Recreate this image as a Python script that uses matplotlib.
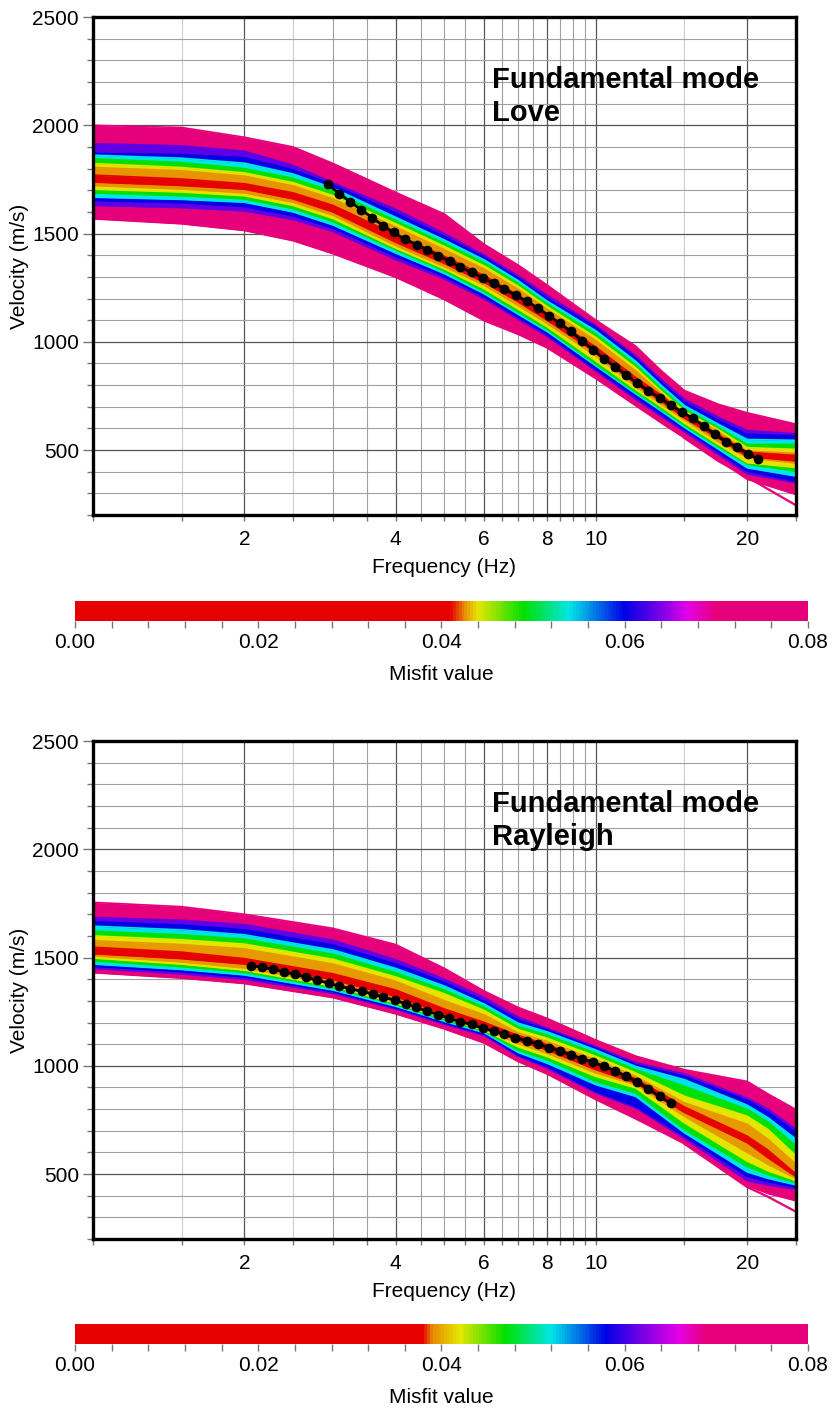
#Dispersion curves of the inversion, coloured by misfit
import numpy as np
import matplotlib
matplotlib.use('Agg')
import matplotlib.pyplot as plt
from matplotlib.colors import LinearSegmentedColormap, Normalize
from matplotlib.cm import ScalarMappable
from matplotlib.ticker import FixedLocator, MultipleLocator, FormatStrFormatter, NullFormatter

plt.rcParams['font.family'] = ['Liberation Sans', 'DejaVu Sans']

# ---------------- Love panel ----------------
love_freq = [1, 1.5, 2, 2.5, 3, 4, 5, 6, 7, 8, 10, 12, 13.5, 15, 17.5, 20, 25]
# bands from worst misfit (outer, pink) to best (inner, red)
love_misfit = [0.075, 0.063, 0.060, 0.054, 0.049, 0.044, 0.0425, 0.030]
love_upper = [
    [2000, 1990, 1945, 1900, 1824, 1690, 1590, 1450, 1355, 1262, 1100, 980, 866, 775, 712, 672, 620],
    [1915, 1905, 1880, 1815, 1735, 1612, 1500, 1400, 1305, 1215, 1075, 935, 825, 735, 652, 590, 575],
    [1870, 1865, 1850, 1795, 1725, 1595, 1485, 1390, 1295, 1200, 1066, 925, 812, 720, 638, 573, 565],
    [1862, 1848, 1825, 1775, 1710, 1575, 1470, 1378, 1283, 1188, 1051, 910, 798, 705, 620, 549, 545],
    [1845, 1828, 1800, 1755, 1695, 1560, 1455, 1365, 1270, 1175, 1036, 895, 783, 690, 605, 526, 526],
    [1823, 1805, 1780, 1735, 1675, 1545, 1440, 1350, 1257, 1162, 1020, 880, 770, 680, 595, 511, 503],
    [1805, 1790, 1765, 1720, 1660, 1530, 1425, 1335, 1243, 1150, 1005, 865, 760, 670, 585, 495, 485],
    [1770, 1752, 1730, 1688, 1630, 1495, 1395, 1305, 1215, 1125, 975, 835, 752, 665, 572, 490, 475],
]
love_lower = [
    [1568, 1545, 1514, 1467, 1407, 1298, 1195, 1097, 1035, 972, 830, 705, 625, 556, 455, 365, 295],
    [1630, 1620, 1605, 1565, 1510, 1380, 1290, 1198, 1105, 1025, 866, 735, 655, 585, 480, 390, 350],
    [1653, 1642, 1625, 1582, 1525, 1395, 1302, 1208, 1115, 1035, 873, 745, 665, 595, 492, 403, 356],
    [1668, 1658, 1645, 1600, 1540, 1410, 1315, 1222, 1128, 1048, 889, 760, 680, 605, 505, 418, 380],
    [1688, 1675, 1660, 1615, 1555, 1425, 1327, 1232, 1138, 1058, 897, 768, 690, 615, 517, 435, 403],
    [1705, 1692, 1675, 1630, 1570, 1433, 1337, 1245, 1152, 1070, 912, 780, 700, 625, 527, 442, 420],
    [1722, 1706, 1688, 1645, 1585, 1445, 1347, 1262, 1168, 1085, 935, 795, 712, 640, 540, 465, 440],
    [1738, 1722, 1705, 1660, 1600, 1460, 1362, 1275, 1185, 1100, 950, 805, 725, 648, 555, 470, 450],
]
# a few stray models leaving the bundle at high frequency
love_stray_freq = [15, 17.5, 20, 25]
love_stray_vel = [556, 450, 375, 245]
love_obs_freq = [2.93, 3.09, 3.24, 3.41, 3.59, 3.77, 3.96, 4.17, 4.40, 4.62, 4.86, 5.12, 5.38, 5.66,
                 5.96, 6.26, 6.58, 6.93, 7.29, 7.67, 8.07, 8.49, 8.92, 9.38, 9.88, 10.39, 10.92,
                 11.50, 12.09, 12.72, 13.39, 14.08, 14.80, 15.59, 16.39, 17.23, 18.15, 19.08,
                 20.06, 21.05]
love_obs_vel = [1727, 1685, 1648, 1611, 1574, 1537, 1505, 1474, 1449, 1424, 1398, 1372, 1344, 1321,
                1295, 1270, 1244, 1215, 1187, 1156, 1120, 1085, 1048, 1005, 963, 920, 884, 846,
                810, 773, 742, 708, 677, 647, 611, 573, 538, 514, 483, 457]
love_cmap_stops = [0.0, 0.041, 0.0425, 0.044, 0.049, 0.054, 0.060, 0.064, 0.067, 0.070, 0.080]

# ---------------- Rayleigh panel ----------------
ray_freq = [1, 1.5, 2, 3, 4, 5, 6, 7, 8, 10, 12, 15, 20, 22, 25]
ray_misfit = [0.074, 0.061, 0.058, 0.052, 0.047, 0.042, 0.0395, 0.030]
ray_upper = [
    [1755, 1735, 1700, 1635, 1560, 1450, 1345, 1270, 1219, 1119, 1045, 982, 928, 870, 798],
    [1685, 1672, 1652, 1580, 1490, 1400, 1315, 1225, 1173, 1088, 1015, 962, 850, 800, 706],
    [1665, 1650, 1628, 1558, 1470, 1385, 1298, 1212, 1165, 1081, 1005, 951, 840, 785, 691],
    [1645, 1628, 1605, 1535, 1450, 1368, 1285, 1197, 1157, 1073, 997, 936, 818, 760, 661],
    [1622, 1605, 1585, 1515, 1430, 1350, 1270, 1182, 1142, 1058, 982, 905, 798, 740, 630],
    [1600, 1582, 1562, 1492, 1410, 1332, 1255, 1167, 1127, 1043, 967, 859, 767, 705, 584],
    [1578, 1560, 1540, 1470, 1390, 1300, 1235, 1152, 1112, 1028, 951, 829, 730, 660, 546],
    [1548, 1525, 1495, 1425, 1350, 1262, 1200, 1140, 1098, 1012, 940, 810, 675, 610, 500],
]
ray_lower = [
    [1430, 1405, 1380, 1315, 1240, 1170, 1105, 1020, 962, 844, 755, 640, 446, 410, 377],
    [1450, 1425, 1400, 1335, 1262, 1192, 1140, 1045, 989, 875, 806, 665, 470, 450, 430],
    [1460, 1435, 1410, 1343, 1268, 1198, 1147, 1050, 997, 882, 813, 676, 490, 465, 439],
    [1470, 1445, 1420, 1350, 1275, 1205, 1153, 1062, 1012, 913, 859, 691, 510, 480, 450],
    [1485, 1458, 1432, 1360, 1283, 1212, 1160, 1073, 1028, 928, 875, 706, 535, 497, 460],
    [1498, 1470, 1442, 1368, 1290, 1220, 1165, 1088, 1043, 951, 898, 737, 560, 515, 470],
    [1508, 1480, 1452, 1378, 1297, 1228, 1170, 1103, 1058, 967, 913, 767, 600, 545, 480],
    [1518, 1495, 1470, 1398, 1320, 1238, 1180, 1117, 1073, 982, 920, 785, 645, 575, 488],
]
ray_stray_freq = [15, 20, 22, 25]
ray_stray_vel = [640, 440, 395, 326]
ray_obs_freq = [2.06, 2.17, 2.28, 2.40, 2.52, 2.65, 2.79, 2.94, 3.09, 3.25, 3.42, 3.60, 3.78, 3.98,
                4.19, 4.38, 4.62, 4.86, 5.11, 5.38, 5.66, 5.96, 6.26, 6.58, 6.92, 7.29, 7.67, 8.06,
                8.49, 8.92, 9.38, 9.88, 10.39, 10.92, 11.50, 12.09, 12.72, 13.39, 14.08]
ray_obs_vel = [1463, 1455, 1445, 1434, 1422, 1410, 1396, 1382, 1368, 1356, 1344, 1332, 1318, 1303,
               1287, 1271, 1252, 1237, 1219, 1203, 1191, 1173, 1161, 1145, 1130, 1116, 1100, 1084,
               1069, 1050, 1033, 1017, 997, 977, 951, 925, 893, 859, 827]
ray_cmap_stops = [0.0, 0.038, 0.039, 0.042, 0.047, 0.052, 0.058, 0.062, 0.066, 0.069, 0.080]

# palette of the misfit scale (red -> pink)
palette = ['#e60000', '#e60000', '#e68a00', '#e6e600', '#00e000', '#00e6e6',
           '#0000e6', '#7a00e6', '#e600e6', '#e6007a', '#e6007a']

x_major = [2, 4, 6, 8, 10, 20]
x_minor = [1, 1.5, 2.5, 3, 3.5, 4.5, 5, 5.5, 6.5, 7, 7.5, 8.5, 9, 9.5, 15, 25]
x_faint = [1.5, 2.5, 15]   # these grid lines are drawn lighter
MISFIT_MAX = 0.08
FS = 15


# Function to build the misfit colormap of one panel
def make_cmap(stops):
    pos = [s / MISFIT_MAX for s in stops]
    return LinearSegmentedColormap.from_list('misfit', list(zip(pos, palette)))


# Function to draw one dispersion panel
def draw_panel(ax, freq, upper, lower, misfit, stray_f, stray_v, obs_f, obs_v, cmap, title):
    norm = Normalize(0, MISFIT_MAX)
    ax.plot(stray_f, stray_v, color=cmap(norm(misfit[0])), lw=1.6, zorder=2)
    for hi, lo, m in zip(upper, lower, misfit):
        c = cmap(norm(m))
        ax.fill_between(freq, lo, hi, color=c, lw=0, zorder=2)
        ax.plot(freq, hi, color=c, lw=1.2, zorder=2)
        ax.plot(freq, lo, color=c, lw=1.2, zorder=2)
    ax.plot(obs_f, obs_v, color='black', lw=2, marker='o', ms=6, zorder=4)

    ax.set_xscale('log')
    ax.set_xlim(1, 25)
    ax.set_ylim(200, 2500)
    ax.xaxis.set_major_locator(FixedLocator(x_major))
    ax.xaxis.set_minor_locator(FixedLocator(x_minor))
    ax.xaxis.set_major_formatter(FormatStrFormatter('%g'))
    ax.xaxis.set_minor_formatter(NullFormatter())
    ax.yaxis.set_major_locator(MultipleLocator(500))
    ax.yaxis.set_minor_locator(MultipleLocator(100))

    ax.set_axisbelow(True)
    ax.grid(which='major', color='#555555', lw=0.9)
    ax.grid(which='minor', color='#a0a0a0', lw=0.8)
    for t, loc in zip(ax.xaxis.get_minor_ticks(), x_minor):
        if loc in x_faint:
            t.gridline.set_color('#cccccc')
    ax.tick_params(which='both', direction='out', color='#777777', width=1, labelsize=FS)
    ax.tick_params(axis='x', which='both', length=4.5, pad=6.3)
    ax.tick_params(axis='y', which='major', length=7, pad=3)
    ax.tick_params(axis='y', which='minor', length=4.5)
    for sp in ax.spines.values():
        sp.set_linewidth(2.4)
        sp.set_zorder(5)

    ax.set_xlabel('Frequency (Hz)', fontsize=FS, labelpad=6.5)
    ax.set_ylabel('Velocity (m/s)', fontsize=FS, labelpad=2.5)
    ax.text(0.567, 0.857, 'Fundamental mode', transform=ax.transAxes, fontsize=21,
            fontweight='bold', va='baseline', ha='left', zorder=6)
    ax.text(0.567, 0.791, title, transform=ax.transAxes, fontsize=21,
            fontweight='bold', va='baseline', ha='left', zorder=6)


# Function to draw the misfit colour scale under a panel
def draw_scale(cax, cmap):
    sm = ScalarMappable(norm=Normalize(0, MISFIT_MAX), cmap=cmap)
    cb = plt.colorbar(sm, cax=cax, orientation='horizontal')
    cb.outline.set_visible(False)
    cb.set_ticks([0.0, 0.02, 0.04, 0.06, 0.08])
    cb.ax.xaxis.set_major_formatter(FormatStrFormatter('%.2f'))
    cb.ax.xaxis.set_minor_locator(MultipleLocator(0.004))
    cb.ax.tick_params(which='both', direction='out', length=5, color='#777777',
                      width=1, labelsize=FS, pad=3.5)
    cb.set_label('Misfit value', fontsize=FS, labelpad=9.5)


fig = plt.figure(figsize=(8.33, 14.08), dpi=100)

ax_love = fig.add_axes([0.1116, 0.6342, 0.8440, 0.3537])
cax_love = fig.add_axes([0.0900, 0.5589, 0.8800, 0.0142])
ax_ray = fig.add_axes([0.1116, 0.1200, 0.8440, 0.3537])
cax_ray = fig.add_axes([0.0900, 0.0455, 0.8800, 0.0142])

love_cmap = make_cmap(love_cmap_stops)
ray_cmap = make_cmap(ray_cmap_stops)

draw_panel(ax_love, love_freq, love_upper, love_lower, love_misfit, love_stray_freq,
           love_stray_vel, love_obs_freq, love_obs_vel, love_cmap, 'Love')
draw_scale(cax_love, love_cmap)

draw_panel(ax_ray, ray_freq, ray_upper, ray_lower, ray_misfit, ray_stray_freq,
           ray_stray_vel, ray_obs_freq, ray_obs_vel, ray_cmap, 'Rayleigh')
draw_scale(cax_ray, ray_cmap)

fig.savefig('out.png', dpi=100)
